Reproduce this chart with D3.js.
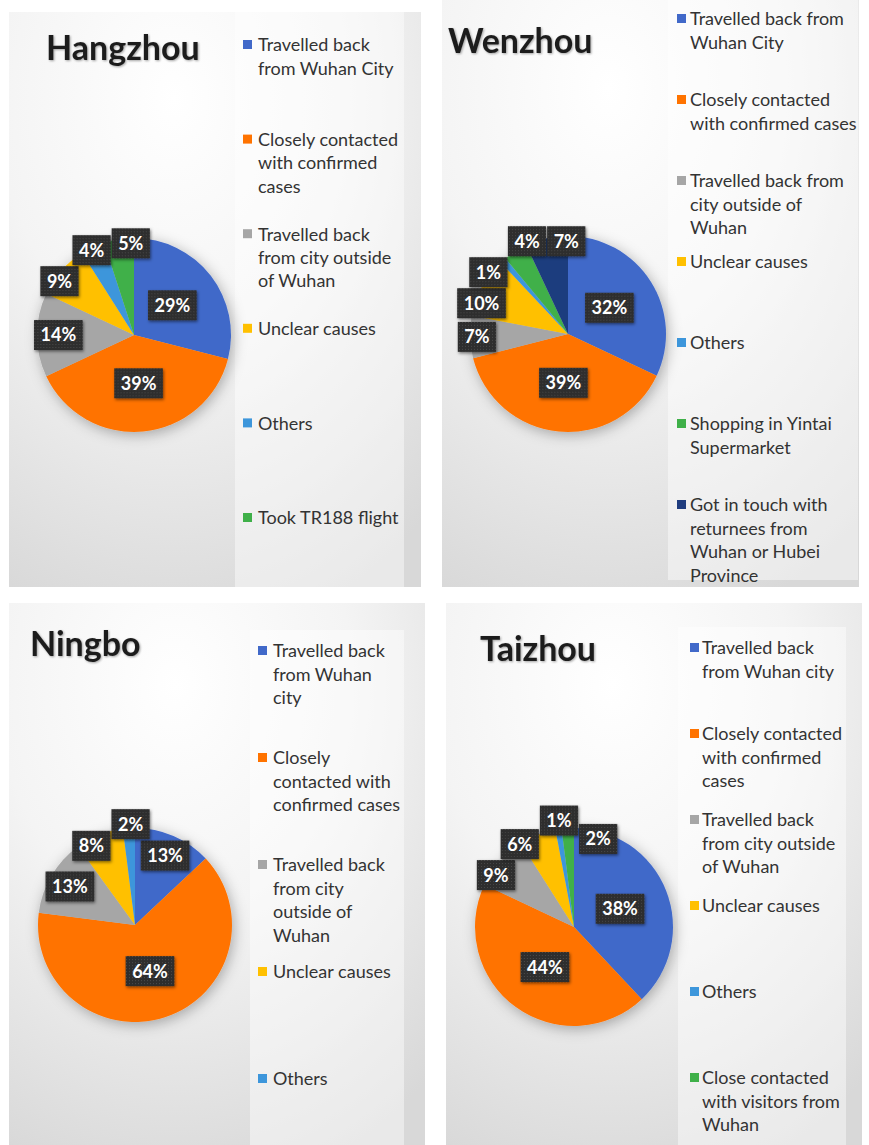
<!DOCTYPE html>
<html>
<head>
<meta charset="utf-8">
<script src="https://cdn.jsdelivr.net/npm/d3@7"></script>
<style>
  body { margin: 0; background: #fff; }
  svg { display: block; font-family: Lato, "Open Sans", sans-serif; }
</style>
</head>
<body>
<div id="chart"></div>
<script>
// Source of infection, share of confirmed cases (%), per city.
// Legend texts keep the line breaks of the original.
const hangzhouCauses = ["Travelled back\nfrom Wuhan City", "Closely contacted\nwith confirmed\ncases",
    "Travelled back\nfrom city outside\nof Wuhan", "Unclear causes", "Others", "Took TR188 flight"];
const hangzhouShares = [29, 39, 14, 9, 4, 5];

const wenzhouCauses = ["Travelled back from\nWuhan City", "Closely contacted\nwith confirmed cases",
    "Travelled back from\ncity outside of\nWuhan", "Unclear causes", "Others",
    "Shopping in Yintai\nSupermarket", "Got in touch with\nreturnees from\nWuhan or Hubei\nProvince"];
const wenzhouShares = [32, 39, 7, 10, 1, 4, 7];

const ningboCauses = ["Travelled back\nfrom Wuhan\ncity", "Closely\ncontacted with\nconfirmed cases",
    "Travelled back\nfrom city\noutside of\nWuhan", "Unclear causes", "Others"];
const ningboShares = [13, 64, 13, 8, 2];

const taizhouCauses = ["Travelled back\nfrom Wuhan city", "Closely contacted\nwith confirmed\ncases",
    "Travelled back\nfrom city outside\nof Wuhan", "Unclear causes", "Others",
    "Close contacted\nwith visitors from\nWuhan"];
const taizhouShares = [38, 44, 9, 6, 1, 2];

const sliceColors = ["#4169c9", "#ff7300", "#a6a6a6", "#ffc000", "#3d96db", "#3fb049", "#1f3c7e"];

// one entry per panel: data + where it sits on the page
const cities = [
    {name: "Hangzhou", causes: hangzhouCauses, shares: hangzhouShares,
        panel: [9, 12, 412, 575], strip: [235, 12, 169, 575], title: [46, 60],
        center: [134, 335], r: 97, markerX: 243, textX: 258, legendY: 45, step: 94.6},
    {name: "Wenzhou", causes: wenzhouCauses, shares: wenzhouShares,
        panel: [442, 0, 417, 587], strip: [668, 0, 190, 580], title: [448, 53],
        center: [568, 334], r: 98, markerX: 677, textX: 690, legendY: 19, step: 81},
    {name: "Ningbo", causes: ningboCauses, shares: ningboShares,
        panel: [9, 603, 416, 542], strip: [250, 630, 154, 515], title: [30, 656],
        center: [135, 925], r: 97, markerX: 258, textX: 273, legendY: 651, step: 107},
    {name: "Taizhou", causes: taizhouCauses, shares: taizhouShares,
        panel: [446, 603, 416, 542], strip: [678, 627, 168, 518], title: [480, 661],
        center: [574, 927], r: 99, markerX: 690, textX: 702, legendY: 648, step: 86}
];

const W = 869, H = 1145;
const color = d3.scaleOrdinal().domain(d3.range(sliceColors.length)).range(sliceColors);

const svg = d3.select("#chart").append("svg")
    .attr("width", W)
    .attr("height", H);

const defs = svg.append("defs");

const bg = defs.append("radialGradient")
    .attr("id", "panelBg")
    .attr("cx", 0.4).attr("cy", 0.15).attr("r", 0.95);
bg.append("stop").attr("offset", 0).attr("stop-color", "#ffffff");
bg.append("stop").attr("offset", 0.45).attr("stop-color", "#f4f4f4");
bg.append("stop").attr("offset", 1).attr("stop-color", "#d8d8d8");

const pieShadow = defs.append("filter").attr("id", "pieShadow")
    .attr("x", -0.3).attr("y", -0.3).attr("width", 1.6).attr("height", 1.6);
pieShadow.append("feDropShadow")
    .attr("dx", 2).attr("dy", 3).attr("stdDeviation", 7)
    .attr("flood-color", "#000").attr("flood-opacity", 0.3);

const boxShadow = defs.append("filter").attr("id", "boxShadow")
    .attr("x", -0.3).attr("y", -0.3).attr("width", 1.6).attr("height", 1.6);
boxShadow.append("feDropShadow")
    .attr("dx", 1).attr("dy", 1.5).attr("stdDeviation", 1.5)
    .attr("flood-color", "#000").attr("flood-opacity", 0.5);

const titleShadow = defs.append("filter").attr("id", "titleShadow");
titleShadow.append("feDropShadow")
    .attr("dx", 1).attr("dy", 1).attr("stdDeviation", 1)
    .attr("flood-color", "#000").attr("flood-opacity", 0.35);

// dotted texture of the label boxes
const dots = defs.append("pattern")
    .attr("id", "dots")
    .attr("width", 3).attr("height", 3)
    .attr("patternUnits", "userSpaceOnUse");
dots.append("rect").attr("width", 3).attr("height", 3).attr("fill", "#2d2d2d");
dots.append("rect").attr("width", 1).attr("height", 1).attr("fill", "#4a4a4a");

cities.forEach(city => {
    const g = svg.append("g");

    // panel background and the lighter legend strip
    g.append("rect")
        .attr("x", city.panel[0]).attr("y", city.panel[1])
        .attr("width", city.panel[2]).attr("height", city.panel[3])
        .attr("fill", "url(#panelBg)");
    g.append("rect")
        .attr("x", city.strip[0]).attr("y", city.strip[1])
        .attr("width", city.strip[2]).attr("height", city.strip[3])
        .attr("fill", "#fff").attr("opacity", 0.45);

    g.append("text")
        .attr("x", city.title[0]).attr("y", city.title[1])
        .attr("font-size", 34)
        .attr("font-weight", 700)
        .attr("fill", "#1e1e1e")
        .attr("filter", "url(#titleShadow)")
        .text(city.name);

    // pie
    const pie = d3.pie().sort(null).value(d => d);
    const arcs = pie(city.shares);
    const arc = d3.arc().innerRadius(0).outerRadius(city.r);

    const pieG = g.append("g")
        .attr("transform", `translate(${city.center[0]},${city.center[1]})`);

    pieG.append("g")
        .attr("filter", "url(#pieShadow)")
        .selectAll("path")
        .data(arcs)
        .join("path")
        .attr("d", arc)
        .attr("fill", (d, i) => color(i));

    // data labels: big slices inside, mid ones further out, small ones at the rim, then pushed apart
    const labels = arcs.map(d => {
        const k = d.data >= 15 ? 0.5 : (d.data >= 13 ? 0.78 : 0.93);
        const c = d3.arc().innerRadius(city.r * k).outerRadius(city.r * k).centroid(d);
        return {x: c[0], y: c[1], text: d.data + "%", fixed: d.data >= 13};
    });

    const labelG = pieG.append("g");
    labels.forEach(l => {
        l.g = labelG.append("g");
        l.rect = l.g.append("rect").attr("fill", "url(#dots)").attr("filter", "url(#boxShadow)");
        l.t = l.g.append("text")
            .attr("text-anchor", "middle")
            .attr("dy", "0.36em")
            .attr("font-size", 18)
            .attr("font-weight", 700)
            .attr("fill", "#fff")
            .text(l.text);
        l.w = l.t.node().getComputedTextLength() + 13;
        l.h = 30;
    });

    for (let it = 0; it < 200; it++) {
        for (let i = 0; i < labels.length; i++) {
            for (let j = i + 1; j < labels.length; j++) {
                const a = labels[i], b = labels[j];
                if (a.fixed && b.fixed) continue;
                const dx = b.x - a.x, dy = b.y - a.y;
                const ox = (a.w + b.w) / 2 + 1 - Math.abs(dx);
                const oy = (a.h + b.h) / 2 + 1 - Math.abs(dy);
                if (ox <= 0 || oy <= 0) continue;
                const len = Math.hypot(dx, dy) || 1;
                const push = Math.min(ox, oy) * 0.25;
                const ux = dx / len, uy = dy / len;
                const wa = a.fixed ? 0 : (b.fixed ? 2 : 1);
                const wb = b.fixed ? 0 : (a.fixed ? 2 : 1);
                a.x -= ux * push * wa; a.y -= uy * push * wa;
                b.x += ux * push * wb; b.y += uy * push * wb;
            }
        }
    }

    labels.forEach(l => {
        l.g.attr("transform", `translate(${l.x},${l.y})`);
        l.rect.attr("x", -l.w / 2).attr("y", -l.h / 2)
            .attr("width", l.w).attr("height", l.h);
    });

    // legend
    const lineH = 23.5;
    const legend = g.selectAll("g.item")
        .data(city.causes)
        .join("g")
        .attr("class", "item")
        .attr("transform", (d, i) => `translate(0,${city.legendY + i * city.step})`);

    legend.append("rect")
        .attr("x", city.markerX).attr("y", -5)
        .attr("width", 9).attr("height", 9)
        .attr("fill", (d, i) => color(i));

    legend.append("text")
        .attr("font-size", 18)
        .attr("fill", "#333")
        .selectAll("tspan")
        .data(d => d.split("\n"))
        .join("tspan")
        .attr("x", city.textX)
        .attr("y", (d, i) => i * lineH)
        .attr("dy", "0.35em")
        .text(d => d);
});
</script>
</body>
</html>
